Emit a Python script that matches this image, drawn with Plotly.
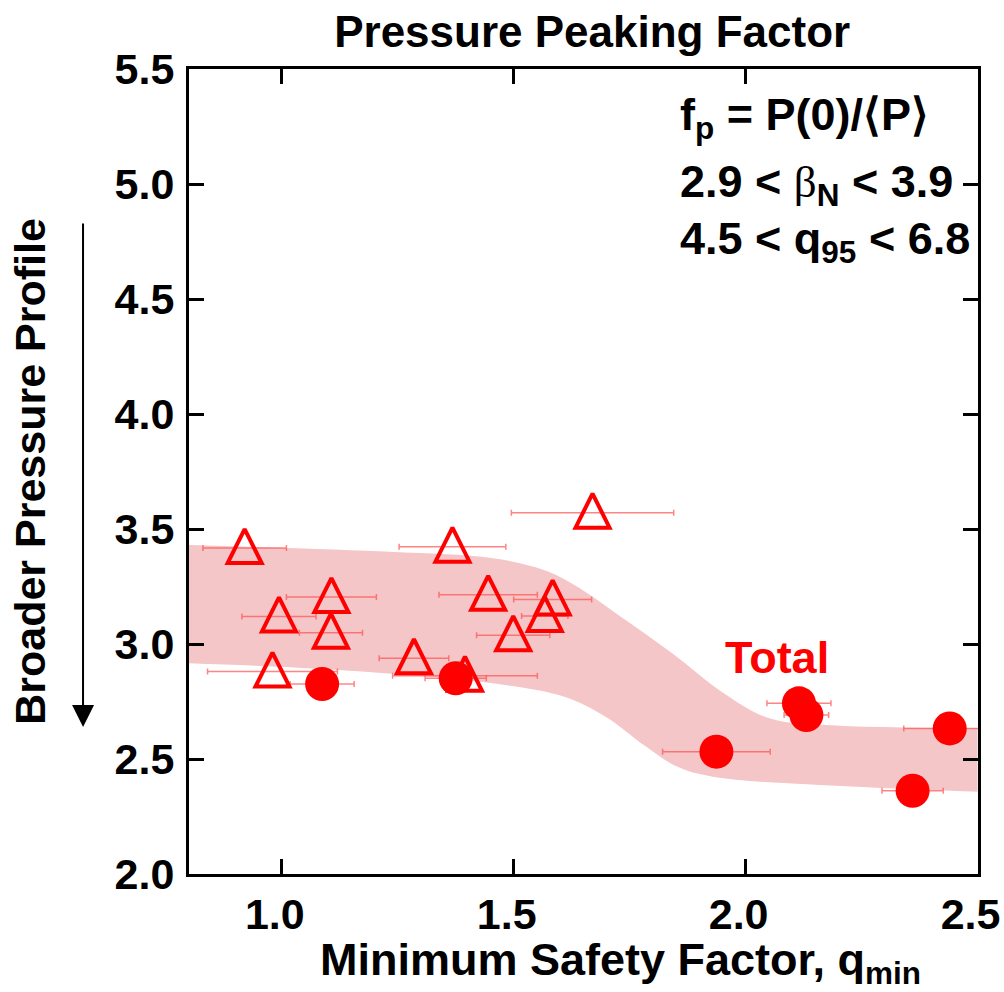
import plotly.graph_objects as go

# ---- data ----
tri_q = [0.920, 0.994, 1.107, 1.106, 0.980, 1.368, 1.445, 1.499, 1.285, 1.395, 1.670, 1.584, 1.567]
tri_fp = [3.417, 3.120, 3.204, 3.049, 2.880, 3.423, 3.214, 3.038, 2.938, 2.862, 3.571, 3.194, 3.122]
tri_err = [0.090, 0.080, 0.097, 0.068, 0.140, 0.115, 0.106, 0.079, 0.075, 0.156, 0.175, 0.084, 0.050]

tot_q = [1.087, 1.375, 1.937, 2.115, 2.131, 2.440, 2.360]
tot_fp = [2.826, 2.851, 2.532, 2.742, 2.691, 2.633, 2.362]
tot_err = [0.069, 0.066, 0.116, 0.069, 0.048, 0.099, 0.066]

band_upper_q = [0.80, 1.233, 1.455, 1.565, 1.631, 1.731, 1.841, 1.952, 2.051, 2.173, 2.50]
band_upper_fp = [3.430, 3.401, 3.373, 3.322, 3.257, 3.119, 2.961, 2.787, 2.677, 2.648, 2.635]
band_lower_q = [0.80, 1.123, 1.455, 1.609, 1.698, 1.786, 1.852, 1.929, 2.228, 2.50]
band_lower_fp = [2.916, 2.887, 2.829, 2.771, 2.684, 2.553, 2.467, 2.423, 2.380, 2.358]

x_ticks = [1.0, 1.5, 2.0, 2.5]
y_ticks = [2.0, 2.5, 3.0, 3.5, 4.0, 4.5, 5.0, 5.5]

FONT = "Liberation Sans, Arial, Helvetica, sans-serif"
RED = "rgb(255,0,0)"
BAND = "rgb(244,198,200)"
ERR = "rgba(255,80,80,0.7)"

fig = go.Figure()

fig.add_trace(go.Scatter(x=band_lower_q, y=band_lower_fp, mode="lines",
                         line=dict(width=0, shape="spline", color=BAND),
                         hoverinfo="skip", showlegend=False))
fig.add_trace(go.Scatter(x=band_upper_q, y=band_upper_fp, mode="lines",
                         line=dict(width=0, shape="spline", color=BAND),
                         fill="tonexty", fillcolor=BAND,
                         hoverinfo="skip", showlegend=False))

# error bars (under all markers)
fig.add_trace(go.Scatter(x=tri_q + tot_q, y=tri_fp + tot_fp, mode="markers",
                         marker=dict(size=1, color="rgba(0,0,0,0)"),
                         error_x=dict(type="data", array=tri_err + tot_err, symmetric=True,
                                      color=ERR, thickness=1.5, width=3),
                         showlegend=False))

fig.add_trace(go.Scatter(x=tri_q, y=tri_fp, mode="markers",
                         marker=dict(symbol="arrow-down-open", angle=180, standoff=19,
                                     size=34, color=RED, line=dict(width=4, color=RED)),
                         showlegend=False))
fig.add_trace(go.Scatter(x=tot_q, y=tot_fp, mode="markers",
                         marker=dict(symbol="circle", size=34, color=RED,
                                     line=dict(width=0)),
                         showlegend=False))

tick_font = dict(family=FONT, size=43, color="black", weight="bold")

fig.update_layout(
    width=1004, height=992,
    margin=dict(l=189, r=26, t=69, b=118, autoexpand=False),
    paper_bgcolor="white", plot_bgcolor="white",
    title=dict(text="Pressure Peaking Factor", x=0.511, xref="paper", xanchor="center",
               y=0.968, yref="container", yanchor="middle",
               font=dict(family=FONT, size=44, color="black", weight="bold")),
    xaxis=dict(range=[0.8, 2.501], tickvals=x_ticks, ticktext=[f"{v:.1f}" for v in x_ticks],
               ticks="inside", ticklen=15, tickwidth=3, tickcolor="black",
               showline=True, linewidth=3, linecolor="black", mirror="ticks",
               showgrid=False, zeroline=False, tickfont=tick_font, ticklabelshift=-7,
               automargin=False),
    yaxis=dict(range=[2.0, 5.5], tickvals=y_ticks, ticktext=[f"{v:.1f}" for v in y_ticks],
               ticks="inside", ticklen=15, tickwidth=3, tickcolor="black",
               showline=True, linewidth=3, linecolor="black", mirror="ticks",
               showgrid=False, zeroline=False, tickfont=tick_font, ticklabelstandoff=3,
               automargin=False,
               title=dict(text="Broader Pressure Profile",
                          font=dict(family=FONT, size=43, color="black", weight="bold"),
                          standoff=56)),
    showlegend=False,
)

ann_font = dict(family=FONT, size=45, color="black", weight="bold")
beta = '<span style="font-family:Liberation Serif;font-weight:normal">β</span>'
fig.add_annotation(x=0.6198, y=(874 - 118) / 805, xref="paper", yref="paper",
                   xanchor="left", yanchor="middle", showarrow=False,
                   text="f<sub>p</sub> = P(0)/⟨P⟩", font=ann_font)
fig.add_annotation(x=0.6198, y=(874 - 185) / 805, xref="paper", yref="paper",
                   xanchor="left", yanchor="middle", showarrow=False,
                   text=f"2.9 &lt; {beta}<sub>N</sub> &lt; 3.9", font=ann_font)
fig.add_annotation(x=0.6198, y=(874 - 241) / 805, xref="paper", yref="paper",
                   xanchor="left", yanchor="middle", showarrow=False,
                   text="4.5 &lt; q<sub>95</sub> &lt; 6.8", font=ann_font)

fig.add_annotation(x=2.067, y=2.943, xref="x", yref="y", showarrow=False,
                   text="Total", font=dict(family=FONT, size=45, color=RED, weight="bold"))

fig.add_annotation(x=0.5475, y=(874 - 962) / 805, xref="paper", yref="paper",
                   xanchor="center", yanchor="middle", showarrow=False,
                   text="Minimum Safety Factor, q<sub>min</sub>",
                   font=dict(family=FONT, size=45, color="black", weight="bold"))

fig.add_annotation(x=-0.1343, y=(874 - 727) / 805, xref="paper", yref="paper",
                   ax=0, ay=-505, text="", showarrow=True, arrowhead=2,
                   arrowsize=2.2, arrowwidth=2, arrowcolor="black")

fig.write_html("out.html", config={"displayModeBar": False})
